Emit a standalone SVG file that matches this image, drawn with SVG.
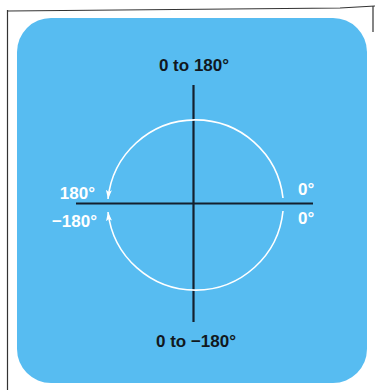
<svg xmlns="http://www.w3.org/2000/svg" width="375" height="390" viewBox="0 0 375 390">
<style>
.lbl{font-family:"Liberation Sans",Arial,sans-serif;font-weight:bold;font-size:17px}
.blk{fill:#111820}
.wht{fill:#ffffff}
.axis{stroke:#14202e;stroke-width:2.2;fill:none}
.arc{stroke:#ffffff;stroke-width:1.6;fill:none}
.frame{stroke:#333;stroke-width:1.2;fill:none}
</style>
<defs>
<marker id="ah" markerUnits="userSpaceOnUse" markerWidth="10" markerHeight="8" refX="9" refY="3.5" orient="auto">
<path d="M0,0.5 L9,3.5 L0,6.5 L2,3.5 z" fill="#ffffff"/>
</marker>
</defs>
<rect width="375" height="390" fill="#ffffff"/>
<g id="frame">
<path class="frame" d="M8,11 L340,8 L375,6"/>
<path class="frame" d="M7.5,10 L7.5,390"/>
<path class="frame" d="M373,6 L373,32"/>
</g>
<rect id="panel" x="17" y="18" width="350" height="365" rx="34" ry="34" fill="#57bcf1"/>
<g id="connectors">
<line class="axis" x1="193.5" y1="85" x2="193.5" y2="322"/>
<line class="axis" x1="76" y1="203.5" x2="313" y2="203.5"/>
<path class="arc" d="M283,198 A88,88 0 0 0 108,199" marker-end="url(#ah)"/>
<path class="arc" d="M283,211 A88,88 0 0 1 108,212" marker-end="url(#ah)"/>
</g>
<g id="top-label"><text class="lbl blk" x="194" y="71" text-anchor="middle">0 to 180°</text></g>
<g id="bottom-label"><text class="lbl blk" x="196" y="347" text-anchor="middle">0 to −180°</text></g>
<g id="left-pos"><text class="lbl wht" x="95" y="199" text-anchor="end">180°</text></g>
<g id="left-neg"><text class="lbl wht" x="97" y="227" text-anchor="end">−180°</text></g>
<g id="right-pos"><text class="lbl wht" x="298" y="195">0°</text></g>
<g id="right-neg"><text class="lbl wht" x="298" y="224">0°</text></g>
</svg>
